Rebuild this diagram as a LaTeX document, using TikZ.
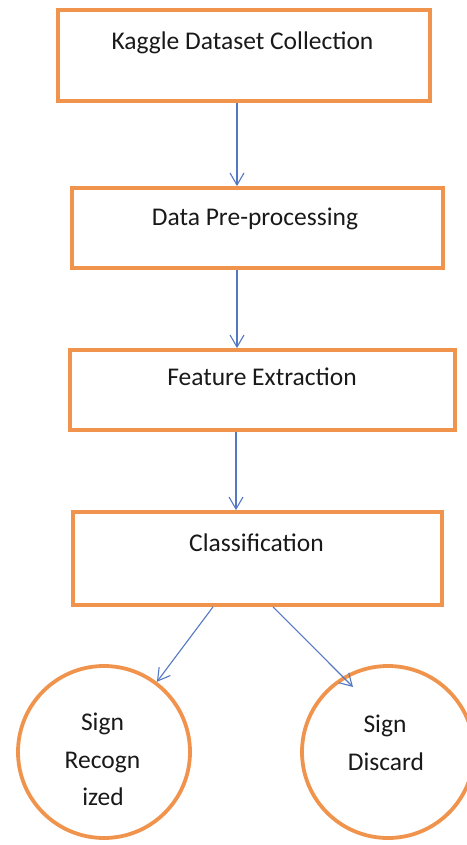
\documentclass[tikz,border=0pt]{standalone}
\usepackage{fontspec}
\setmainfont{Carlito}
\usetikzlibrary{arrows.meta,calc}
\definecolor{boxorange}{RGB}{240,148,77}
\definecolor{arrblue}{RGB}{84,120,196}
\definecolor{txtcol}{RGB}{25,25,25}
\begin{document}
\begin{tikzpicture}[x=1pt,y=-1pt,
  box/.style={draw=boxorange,line width=3.8pt,rectangle,inner sep=0pt},
  circ/.style={draw=boxorange,line width=3.8pt,circle,inner sep=0pt,minimum size=172pt},
  lbl/.style={font=\fontsize{25.5}{30}\selectfont,text=txtcol,inner sep=0pt,anchor=base},
  arr/.style={draw=arrblue,line width=1.1pt,-{Straight Barb[length=12pt,width=14pt]}}]
\useasboundingbox (0,0) rectangle (466,845);
% boxes
\node[box,minimum width=372pt,minimum height=91pt] (b1) at (244,55.5) {};
\node[box,minimum width=371pt,minimum height=80pt] (b2) at (257.5,228) {};
\node[box,minimum width=385pt,minimum height=80pt] (b3) at (262.5,390) {};
\node[box,minimum width=369pt,minimum height=93pt] (b4) at (257.5,558.5) {};
% circles
\node[circ] (rec) at (104,752) {};
\node[circ] (dis) at (388,752) {};
% texts
\node[lbl] (t1) at (242.5,50) {Kaggle Dataset Collection};
\node[lbl] (t2) at (255,225) {Data Pre-processing};
\node[lbl] (t3) at (262,385) {Feature Extraction};
\node[lbl] (t4) at (256.5,551) {Classification};
\node[lbl] (r1) at (102.5,730) {Sign};
\node[lbl] (r2) at (102.5,768) {Recogn};
\node[lbl] (r3) at (103,805) {ized};
\node[lbl] (d1) at (385,732) {Sign};
\node[lbl] (d2) at (386,770) {Discard};
% connectors
\coordinate (ax) at (237,0);
\coordinate (bx) at (236,0);
\coordinate (lx) at (213,0);
\coordinate (rx) at (273,0);
\draw[arr] (b1.south -| ax) -- (b2.north -| ax);
\draw[arr] (b2.south -| ax) -- (b3.north -| ax);
\draw[arr] (b3.south -| bx) -- (b4.north -| bx);
\draw[arr] (b4.south -| lx) -- (rec.53);
\draw[arr] (b4.south -| rx) -- ($(dis.center)+(-35,-65)$);
\end{tikzpicture}
\end{document}
